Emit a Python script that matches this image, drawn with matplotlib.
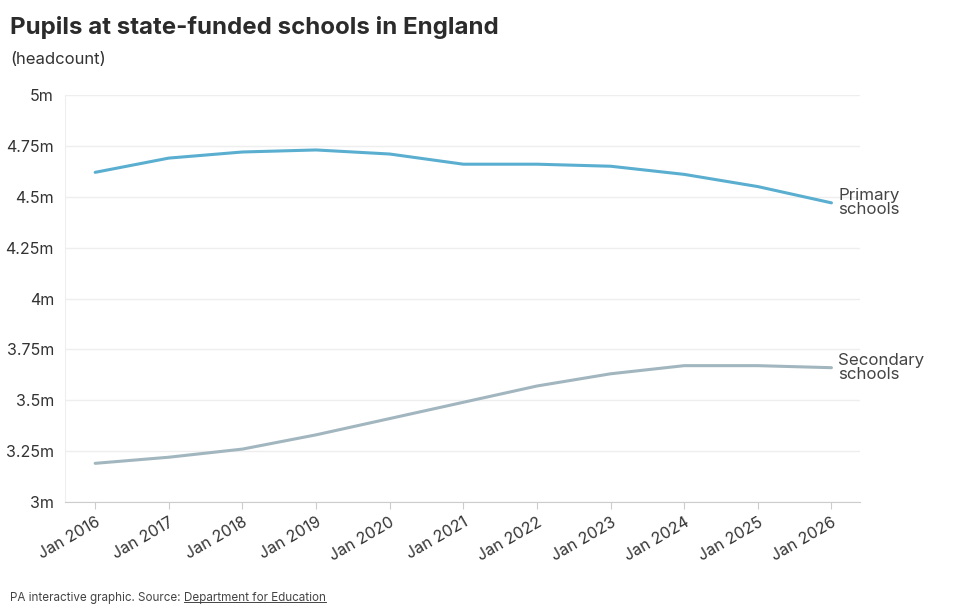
import numpy as np
import matplotlib.pyplot as plt
from matplotlib.ticker import FixedLocator
from matplotlib.lines import Line2D

plt.rcParams['font.family'] = ['Inter', 'DejaVu Sans']

years = [2016, 2017, 2018, 2019, 2020, 2021, 2022, 2023, 2024, 2025, 2026]
year_labels = ['Jan %d' % y for y in years]
primary = [4.62, 4.69, 4.72, 4.73, 4.71, 4.66, 4.66, 4.65, 4.61, 4.55, 4.47]
secondary = [3.19, 3.22, 3.26, 3.33, 3.41, 3.49, 3.57, 3.63, 3.67, 3.67, 3.66]
y_ticks = [3, 3.25, 3.5, 3.75, 4, 4.25, 4.5, 4.75, 5]
y_labels = ['3m', '3.25m', '3.5m', '3.75m', '4m', '4.25m', '4.5m', '4.75m', '5m']

fig = plt.figure(figsize=(9.6, 6.11), dpi=100)
ax = fig.add_axes([0.0677, 0.1784, 0.8283, 0.6661])

ax.plot(years, primary, color='#5aaed0', lw=2.2, solid_capstyle='round')
ax.plot(years, secondary, color='#a2b6bf', lw=2.2, solid_capstyle='round')

ax.set_xlim(2015.59, 2026.39)
ax.set_ylim(3, 5)
ax.yaxis.set_major_locator(FixedLocator(y_ticks))
ax.set_yticklabels(y_labels)
ax.set_xticks(years)
ax.set_xticklabels(year_labels, rotation=30, ha='right', rotation_mode='anchor')

ax.grid(axis='y', color='#eeeeee', lw=1)
ax.set_axisbelow(True)
for s in ['top', 'right']:
    ax.spines[s].set_visible(False)
ax.spines['left'].set_color('#eeeeee')
ax.spines['bottom'].set_color('#cccccc')
ax.tick_params(axis='y', length=0, pad=8, labelsize=11.5, labelcolor='#333333')
ax.tick_params(axis='x', length=5, color='#cccccc', pad=4, labelsize=11.5, labelcolor='#333333')

ax.annotate('Primary\nschools', (years[-1], primary[-1]), xytext=(5, 0),
            textcoords='offset points', va='center', ha='left', fontsize=12.2,
            color='#444444', linespacing=0.9, annotation_clip=False)
ax.annotate('Secondary\nschools', (years[-1], secondary[-1]), xytext=(5, 0),
            textcoords='offset points', va='center', ha='left', fontsize=12.2,
            color='#444444', linespacing=0.9, annotation_clip=False)

fig.text(0.0104, 0.955, 'Pupils at state-funded schools in England', fontsize=17.3,
         fontweight='bold', color='#2b2b2b', va='center')
fig.text(0.0104, 0.902, '(headcount)', fontsize=12, color='#333333', va='center')
t = fig.text(0.0104, 0.022, 'PA interactive graphic. Source: ', fontsize=8.4, color='#444444', va='center')
fig.canvas.draw()
bb = t.get_window_extent()
x0 = bb.x1 / fig.bbox.width
t2 = fig.text(x0, 0.022, 'Department for Education', fontsize=8.4, color='#444444', va='center')
fig.canvas.draw()
bb2 = t2.get_window_extent()
uy = (bb2.y0 + 1.5) / fig.bbox.height
fig.add_artist(Line2D([x0, bb2.x1 / fig.bbox.width], [uy, uy], color='#444444', lw=0.7))

fig.savefig('out.png', dpi=100)
